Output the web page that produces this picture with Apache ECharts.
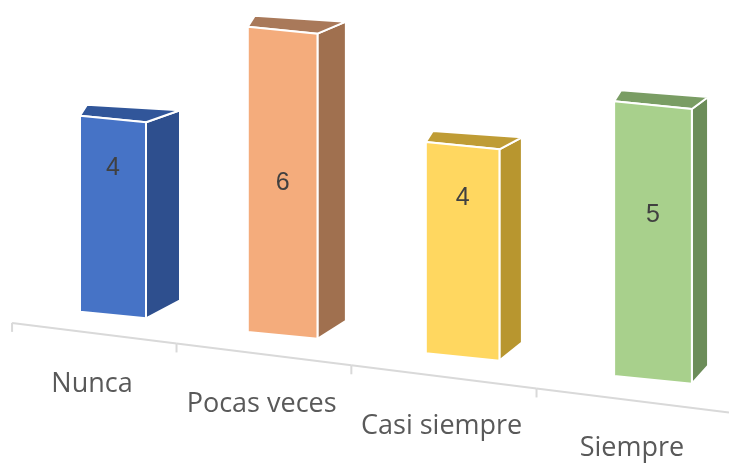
<!DOCTYPE html>
<html>
<head>
<meta charset="utf-8">
<script src="https://cdn.jsdelivr.net/npm/echarts@6/dist/echarts.min.js"></script>
<style>
  html, body { margin: 0; padding: 0; background: #fff; }
  #draw { width: 729px; height: 464px; }
</style>
</head>
<body>
<div id="draw"></div>
<script>
// chart data
var categories = ["Nunca", "Pocas veces", "Casi siempre", "Siempre"];
var values = [4, 6, 4, 5];

// face colours: front, right side, top
var frontColors = ["#4673C6", "#F4AC7C", "#FFD760", "#A8D08C"];
var sideColors = ["#2E4F8E", "#A0704F", "#B8962F", "#6C8D59"];
var topColors = ["#31569A", "#A9795A", "#BF9C35", "#7A9D64"];

var chart = echarts.init(document.getElementById("draw"));

// fake 3D perspective helpers (pixel space)
function persp(api) {
  var x0 = api.coord([0, 0])[0];
  var x1 = api.coord([categories.length - 1, 0])[0];
  var y0 = api.coord([0, 0])[1];
  var step = (x1 - x0) / (categories.length - 1);
  var warp = function (u) {
    return u + 0.00016 * (u - x0) * (u - x1);
  };
  return { x0: x0, x1: x1, y0: y0, step: step, warp: warp };
}

var option = {
  animation: false,
  grid: { left: 113, right: 76, top: 21, bottom: 149 },
  xAxis: {
    type: "category",
    data: categories,
    boundaryGap: false,
    show: false
  },
  yAxis: {
    type: "value",
    min: 0,
    max: 6,
    show: false
  },
  series: [
    {
      type: "custom",
      data: values,
      clip: false,
      renderItem: function (params, api) {
        var i = params.dataIndex;
        var v = api.value(1);
        var P = persp(api);
        var u = api.coord([i, 0])[0];
        var X = P.warp(u);
        var d = X - P.x0;
        var k = 1 + 0.000224 * d;
        var unit = api.size([0, 1])[1];
        var w = 66 * (1 + 0.00033 * d);
        var dx = 34 - 0.033 * d;
        var base = P.y0 + 0.12 * d;
        var h = v * unit * k;

        var xl = X - w / 2, xr = X + w / 2;
        var yBL = base - 0.05 * w, yBR = base + 0.05 * w;
        var yTL = yBL - h, yTR = yBR - h;

        var edge = { stroke: "#ffffff", lineWidth: 2, lineJoin: "round" };

        // axis line piece and tick for this category
        var axisY = function (x) { return P.y0 + 8 + 0.125 * (x - 13); };
        var tickX = P.warp(u - P.step / 2) - 20;
        var nextX = i < categories.length - 1
          ? P.warp(u + P.step / 2) - 20
          : api.getWidth();

        return {
          type: "group",
          children: [
            {
              type: "line",
              shape: { x1: tickX, y1: axisY(tickX), x2: nextX, y2: axisY(nextX) },
              style: { stroke: "#d9d9d9", lineWidth: 2 }
            },
            {
              type: "line",
              shape: { x1: tickX, y1: axisY(tickX), x2: tickX, y2: axisY(tickX) + 9 },
              style: { stroke: "#d9d9d9", lineWidth: 2 }
            },
            {
              type: "polygon",
              shape: { points: [[xr, yBR], [xr, yTR], [xr + dx, yTR - 12], [xr + dx, yBR - 18]] },
              style: Object.assign({ fill: sideColors[i] }, edge)
            },
            {
              type: "polygon",
              shape: { points: [[xl, yTL], [xr, yTR], [xr + dx, yTR - 12], [xl + 7, yTL - 11]] },
              style: Object.assign({ fill: topColors[i] }, edge)
            },
            {
              type: "polygon",
              shape: { points: [[xl, yBL], [xr, yBR], [xr, yTR], [xl, yTL]] },
              style: Object.assign({ fill: frontColors[i] }, edge)
            },
            {
              type: "text",
              style: {
                text: String(v),
                x: X,
                y: base - 3 * unit * k,
                fill: "#404040",
                fontSize: 25,
                fontFamily: "Liberation Sans",
                align: "center",
                verticalAlign: "middle"
              }
            },
            {
              type: "text",
              style: {
                text: categories[i],
                x: X - 21,
                y: base + 69,
                fill: "#595959",
                fontSize: 27,
                fontFamily: "Open Sans",
                align: "center",
                verticalAlign: "middle"
              }
            }
          ]
        };
      }
    }
  ]
};

chart.setOption(option);
</script>
</body>
</html>
